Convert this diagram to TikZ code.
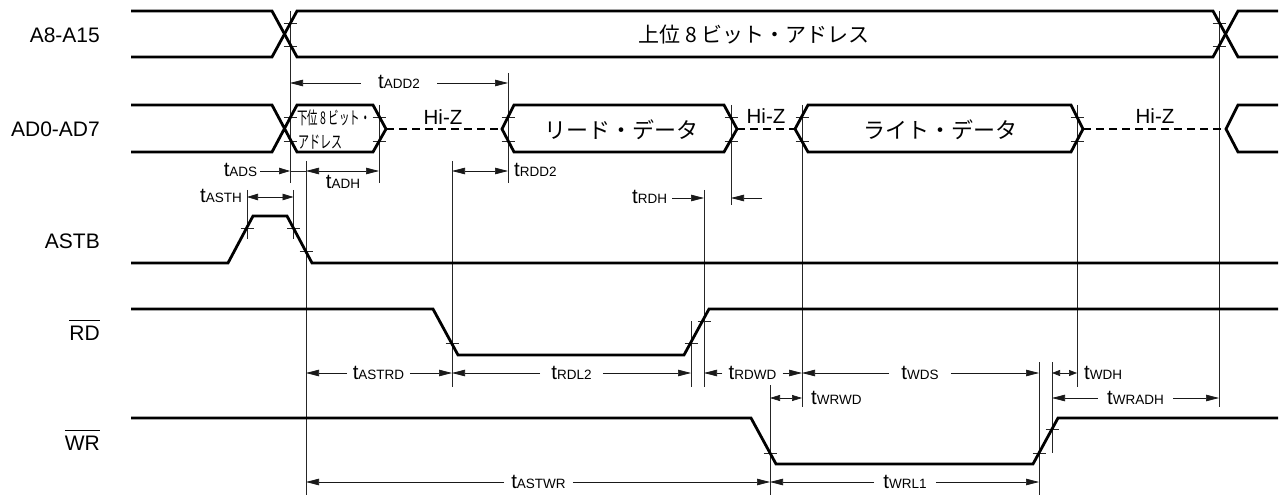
\documentclass[tikz,border=0pt]{standalone}
\usepackage{fontspec}
\usepackage{graphicx}
\usetikzlibrary{arrows.meta}
\setmainfont{Liberation Sans}
\newfontfamily\cjk{Noto Sans CJK JP}
\newcommand\tlab[1]{{\fontsize{20.5}{22}\selectfont t\fontsize{13.5}{15}\selectfont #1}}
\newcommand\barred[1]{\leavevmode\vbox{\hrule height .8pt \kern 5pt \hbox{#1}}}
\tikzset{
  sig/.style={line width=2.8pt,line join=miter,black},
  hiz/.style={line width=2.6pt,black,dash pattern=on 8pt off 5pt},
  mark line/.style={line width=0.8pt,black!85},
  dimline/.style={line width=0.7pt,black!90,-{Triangle[length=13pt,width=6.5pt]}},
  dimboth/.style={line width=0.7pt,black!90,{Triangle[length=11pt,width=6.5pt]}-{Triangle[length=11pt,width=6.5pt]}},
  dimshort/.style={line width=0.7pt,black!90,{Triangle[length=8pt,width=6pt]}-{Triangle[length=8pt,width=6pt]}},
  sigtext/.style={font=\fontsize{21}{23}\selectfont,inner sep=0pt,anchor=base east},
  hiztext/.style={font=\fontsize{20.5}{22}\selectfont,inner sep=0pt,anchor=base},
  tlabel/.style={inner ysep=0pt,inner xsep=#1,anchor=base},
  tlabel/.default=7pt,
  cjklarge/.style={font=\cjk\fontsize{21}{23}\selectfont,inner sep=0pt},
  cjkbig/.style={font=\cjk\fontsize{22}{24}\selectfont,inner sep=0pt},
  cjksmall/.style={font=\cjk\fontsize{17.5}{19}\selectfont,inner sep=0pt,anchor=west},
}
\begin{document}
\begin{tikzpicture}[x=1pt,y=-1pt]
\useasboundingbox (0,0) rectangle (1285,497);
% marker positions
\coordinate (mA) at (290,0);
\coordinate (mB) at (306,0);
\coordinate (mC) at (379,0);
\coordinate (mD) at (508,0);
\coordinate (mE) at (452,0);
\coordinate (mF) at (691,0);
\coordinate (mG) at (704,0);
\coordinate (mH) at (731,0);
\coordinate (mI) at (802,0);
\coordinate (mJ) at (770,0);
\coordinate (mK) at (1039,0);
\coordinate (mL) at (1052,0);
\coordinate (mM) at (1077,0);
\coordinate (mN) at (1219,0);
\coordinate (mP) at (247,0);
\coordinate (mQ) at (293.5,0);
% marker lines
\draw[mark line] (290,11) -- (290,183);
\draw[mark line] (379,105) -- (379,183);
\draw[mark line] (508,73) -- (508,183);
\draw[mark line] (306,161) -- (306,495);
\draw[mark line] (452,161) -- (452,387);
\draw[mark line] (691,321) -- (691,387);
\draw[mark line] (704,190) -- (704,387);
\draw[mark line] (731,105) -- (731,205);
\draw[mark line] (802,105) -- (802,407);
\draw[mark line] (770,385) -- (770,495);
\draw[mark line] (1039,362) -- (1039,495);
\draw[mark line] (1052,362) -- (1052,453);
\draw[mark line] (1077,105) -- (1077,387);
\draw[mark line] (1219,11) -- (1219,407);
\draw[mark line] (247,190) -- (247,239);
\draw[mark line] (293.5,190) -- (293.5,239);
% ticks
\foreach \x/\y in {290/23,290/46,1219/23,1219/46,290/117,290/141,379/117,379/141,508/117,508/141,731/117,731/141,802/117,802/141,1077/117,1077/141,247/228,293.5/228,306/251,452/343,691/343,704/321,770/453,1039/453,1052/429}
  \draw[mark line] ([xshift=-6.5pt]\x,\y) -- ([xshift=6.5pt]\x,\y);
% A8-A15
\draw[sig] (131,11) -- (272,11) -- (297,57) -- (1213,57) -- (1238,11) -- (1278,11);
\draw[sig] (131,57) -- (272,57) -- (297,11) -- (1213,11) -- (1238,57) -- (1278,57);
% AD0-AD7
\draw[sig] (131,105) -- (272,105) -- (297,152) -- (373,152) -- (386,129) -- (373,105) -- (297,105) -- (272,152) -- (131,152);
\draw[hiz] (386,129) -- (502,129);
\draw[sig] (514,105) -- (502,129) -- (514,152) -- (724,152) -- (737,129) -- (724,105) -- cycle;
\draw[hiz] (737,129) -- (795,129);
\draw[sig] (808,105) -- (795,129) -- (808,152) -- (1071,152) -- (1083,129) -- (1071,105) -- cycle;
\draw[hiz] (1083,129) -- (1226,129);
\draw[sig] (1278,105) -- (1238,105) -- (1226,129) -- (1238,152) -- (1278,152);
% ASTB
\draw[sig] (131,263) -- (228,263) -- (253,216) -- (287,216) -- (312,263) -- (1278,263);
% RD
\draw[sig] (131,309) -- (433,309) -- (458,355) -- (684,355) -- (709,309) -- (1278,309);
% WR
\draw[sig] (131,418) -- (751,418) -- (776,464) -- (1033,464) -- (1058,418) -- (1278,418);
% signal names
\node[sigtext] (nA) at (100,42.5) {A8-A15};
\node[sigtext] (nB) at (100,137) {AD0-AD7};
\node[sigtext] (nC) at (100,248) {ASTB};
\node[sigtext] (nD) at (100,340.5) {\barred{RD}};
\node[sigtext] (nE) at (100,450) {\barred{WR}};
% bus contents
\node[cjklarge] (bA) at (754,35) {上位 8 ビット・アドレス};
\node[cjksmall] (bB) at (297,118) {\scalebox{0.6}[1]{下位 8 ビット・}};
\node[cjksmall] (bC) at (298,142) {\scalebox{0.63}[1]{アドレス}};
\node[cjkbig] (bD) at (621,130) {リード・データ};
\node[cjkbig] (bE) at (940,130) {ライト・データ};
\node[hiztext] (zA) at (443,125) {Hi-Z};
\node[hiztext] (zB) at (766,124) {Hi-Z};
\node[hiztext] (zC) at (1155,124) {Hi-Z};
% timing labels
\node[tlabel=17pt] (tADD) at (399,89) {\tlab{ADD2}};
\draw[dimline] (tADD.west |- 0,83) -- (mA |- 0,83);
\draw[dimline] (tADD.east |- 0,83) -- (mD |- 0,83);
\node[tlabel=3pt] (tADS) at (240.5,177) {\tlab{ADS}};
\coordinate (aADSend) at (290,171);
\draw[dimline,-{Triangle[length=11pt,width=6.5pt]}] (tADS.east |- aADSend) -- (aADSend);
\node[tlabel=0pt] (tADH) at (343,189) {\tlab{ADH}};
\draw[mark line] (mA |- 0,171) -- (mB |- 0,171);
\draw[dimboth,{Triangle[length=13pt,width=6.5pt]}-{Triangle[length=13pt,width=6.5pt]}] (mB |- 0,171) -- (mC |- 0,171);
\node[tlabel=0pt,anchor=base west] (tRDD) at (514,177) {\tlab{RDD2}};
\draw[dimboth,{Triangle[length=13pt,width=6.5pt]}-{Triangle[length=13pt,width=6.5pt]}] (mE |- 0,171) -- (mD |- 0,171);
\node[tlabel=0pt,anchor=base west] (tASTH) at (200,203) {\tlab{ASTH}};
\draw[dimboth] (mP |- 0,197) -- (mQ |- 0,197);
\node[tlabel=5pt,anchor=base west] (tRDH) at (627,204) {\tlab{RDH}};
\draw[dimline] (tRDH.east |- 0,198) -- (mG |- 0,198);
\coordinate (rdhfree) at (762,198);
\draw[dimline] (rdhfree) -- (mH |- rdhfree);
% row below RD
\node[tlabel=5.5pt] (tASTRD) at (378.5,379) {\tlab{ASTRD}};
\draw[dimline] (tASTRD.west |- 0,373) -- (mB |- 0,373);
\draw[dimline] (tASTRD.east |- 0,373) -- (mE |- 0,373);
\node[tlabel=11pt] (tRDL) at (571.5,379) {\tlab{RDL2}};
\draw[dimline] (tRDL.west |- 0,373) -- (mE |- 0,373);
\draw[dimline] (tRDL.east |- 0,373) -- (mF |- 0,373);
\node[tlabel=6pt] (tRDWD) at (752.5,379) {\tlab{RDWD}};
\draw[dimline] (tRDWD.west |- 0,373) -- (mG |- 0,373);
\draw[dimline] (tRDWD.east |- 0,373) -- (mI |- 0,373);
\node[tlabel=12pt] (tWDS) at (920,379) {\tlab{WDS}};
\draw[dimline] (tWDS.west |- 0,373) -- (mI |- 0,373);
\draw[dimline] (tWDS.east |- 0,373) -- (mK |- 0,373);
\node[tlabel=0pt,anchor=base west] (tWDH) at (1084,379) {\tlab{WDH}};
\draw[dimshort] (mL |- 0,373) -- (mM |- 0,373);
\node[tlabel=0pt,anchor=base west] (tWRWD) at (811,404) {\tlab{WRWD}};
\draw[dimshort,{Triangle[length=10pt,width=6pt]}-{Triangle[length=10pt,width=6pt]}] (mJ |- 0,398) -- (mI |- 0,398);
\node[tlabel=9pt] (tWRADH) at (1135.5,404) {\tlab{WRADH}};
\draw[dimline] (tWRADH.west |- 0,398) -- (mL |- 0,398);
\draw[dimline] (tWRADH.east |- 0,398) -- (mN |- 0,398);
\node[tlabel=7pt] (tASTWR) at (538.5,488) {\tlab{ASTWR}};
\draw[dimline] (tASTWR.west |- 0,482) -- (mB |- 0,482);
\draw[dimline] (tASTWR.east |- 0,482) -- (mJ |- 0,482);
\node[tlabel=9pt] (tWRL) at (905,488) {\tlab{WRL1}};
\draw[dimline] (tWRL.west |- 0,482) -- (mJ |- 0,482);
\draw[dimline] (tWRL.east |- 0,482) -- (mK |- 0,482);
\end{tikzpicture}
\end{document}
